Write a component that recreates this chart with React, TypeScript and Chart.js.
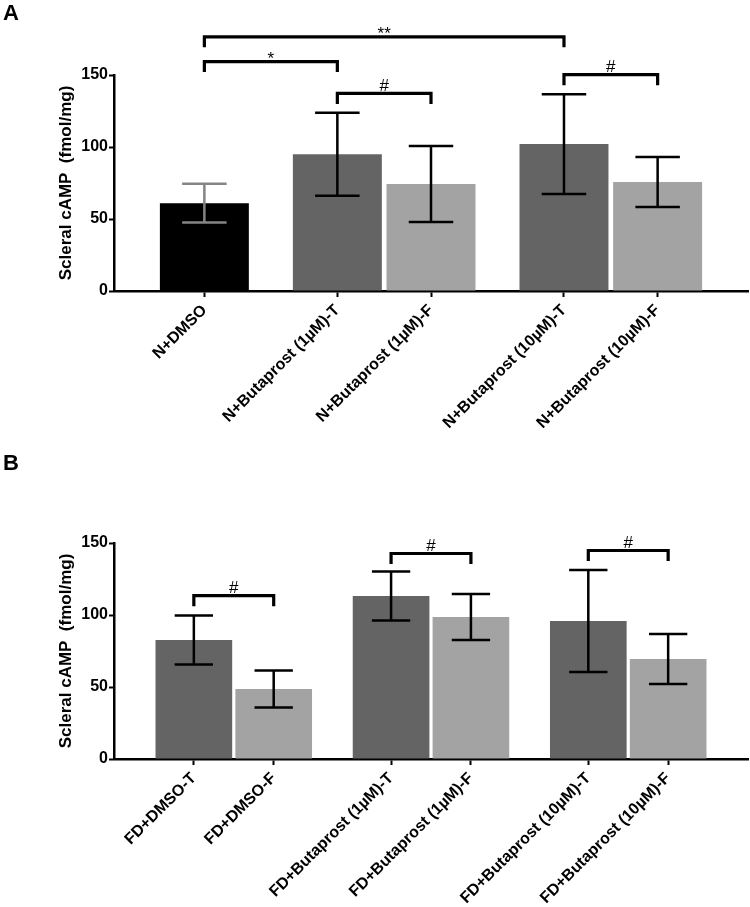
import React, { useEffect, useRef } from "react";
import { Chart, registerables } from "chart.js";

Chart.register(...registerables);

// ---------- Panel A data ----------
const labelsA = [
  "N+DMSO",
  "N+Butaprost (1µM)-T",
  "N+Butaprost (1µM)-F",
  "N+Butaprost (10µM)-T",
  "N+Butaprost (10µM)-F",
];
const groupsA = [0, 1, 1, 2, 2];
const meansA = [61, 95, 74.3, 102, 75.7];
const sdA = [13.5, 28.8, 26.4, 34.7, 17.3];
const bracketsA = [
  { from: 0, to: 3, level: 176.5, text: "**" },
  { from: 0, to: 1, level: 159.3, text: "*" },
  { from: 1, to: 2, level: 137.2, text: "#" },
  { from: 3, to: 4, level: 150.2, text: "#" },
];

// ---------- Panel B data ----------
const labelsB = [
  "FD+DMSO-T",
  "FD+DMSO-F",
  "FD+Butaprost (1µM)-T",
  "FD+Butaprost (1µM)-F",
  "FD+Butaprost (10µM)-T",
  "FD+Butaprost (10µM)-F",
];
const groupsB = [0, 0, 1, 1, 2, 2];
const meansB = [82.6, 48.6, 113.2, 98.6, 95.8, 69.4];
const sdB = [17, 12.8, 17, 16, 35.4, 17.4];
const bracketsB = [
  { from: 0, to: 1, level: 113.4, text: "#" },
  { from: 2, to: 3, level: 142.7, text: "#" },
  { from: 4, to: 5, level: 144.8, text: "#" },
];

const yTicks = [0, 50, 100, 150];

// ---------- styles ----------
const BLACK = "#000000";
const DARK = "#646464";
const LIGHT = "#a3a3a3";
const colorsA = [BLACK, DARK, LIGHT, DARK, LIGHT];
const errColorsA = ["#858585", BLACK, BLACK, BLACK, BLACK];
const colorsB = [DARK, LIGHT, DARK, LIGHT, DARK, LIGHT];
const errColorsB = [BLACK, BLACK, BLACK, BLACK, BLACK, BLACK];

const FONT = "'Liberation Sans', Arial, Helvetica, sans-serif";

type Bracket = { from: number; to: number; level: number; text: string };

interface PanelCfg {
  letter: string;
  letterY: number;
  height: number;
  padTop: number;
  plotBottom: number;
  labels: string[];
  groups: number[];
  means: number[];
  sd: number[];
  colors: string[];
  errColors: string[];
  brackets: Bracket[];
  gap: number;
  edge: number;
  barPct: number;
  legPx: number;
}

function Panel(props: { cfg: PanelCfg }) {
  const ref = useRef<HTMLCanvasElement | null>(null);
  const cfg = props.cfg;

  useEffect(() => {
    const canvas = ref.current;
    if (!canvas) return;
    const positions = cfg.labels.map((_, i) => i + cfg.groups[i] * cfg.gap);
    const xmin = positions[0] - cfg.edge;
    const xmax = positions[positions.length - 1] + cfg.edge;

    const decorPlugin = {
      id: "decor",
      afterDatasetsDraw(chart: any) {
        const ctx = chart.ctx;
        const xs = chart.scales.x;
        const ys = chart.scales.y;
        const meta = chart.getDatasetMeta(0);
        ctx.save();
        // error bars
        meta.data.forEach((bar: any, i: number) => {
          const x = bar.x;
          const half = bar.width * 0.25;
          const top = ys.getPixelForValue(cfg.means[i] + cfg.sd[i]);
          const bot = ys.getPixelForValue(cfg.means[i] - cfg.sd[i]);
          ctx.strokeStyle = cfg.errColors[i];
          ctx.lineWidth = 2.5;
          ctx.lineCap = "butt";
          ctx.beginPath();
          ctx.moveTo(x, top);
          ctx.lineTo(x, bot);
          ctx.moveTo(x - half, top);
          ctx.lineTo(x + half, top);
          ctx.moveTo(x - half, bot);
          ctx.lineTo(x + half, bot);
          ctx.stroke();
        });
        // brackets
        cfg.brackets.forEach((b) => {
          const x1 = xs.getPixelForValue(positions[b.from]);
          const x2 = xs.getPixelForValue(positions[b.to]);
          const y = ys.getPixelForValue(b.level);
          ctx.strokeStyle = BLACK;
          ctx.lineWidth = 3.2;
          ctx.lineJoin = "miter";
          ctx.beginPath();
          ctx.moveTo(x1, y + cfg.legPx);
          ctx.lineTo(x1, y);
          ctx.lineTo(x2, y);
          ctx.lineTo(x2, y + cfg.legPx);
          ctx.stroke();
          ctx.fillStyle = BLACK;
          ctx.textAlign = "center";
          ctx.textBaseline = "alphabetic";
          if (b.text === "#") {
            ctx.font = `17px ${FONT}`;
            ctx.fillText(b.text, (x1 + x2) / 2, y - 2.5);
          } else {
            ctx.font = `17px ${FONT}`;
            ctx.fillText(b.text, (x1 + x2) / 2, y + 2);
          }
        });
        // panel letter
        ctx.font = `bold 22px ${FONT}`;
        ctx.textAlign = "left";
        ctx.textBaseline = "alphabetic";
        ctx.fillStyle = BLACK;
        ctx.fillText(cfg.letter, 3, cfg.letterY);
        ctx.restore();
      },
    };

    const chart = new Chart(canvas, {
      type: "bar",
      data: {
        datasets: [
          {
            data: positions.map((p, i) => ({ x: p, y: cfg.means[i] })),
            backgroundColor: cfg.colors,
            borderWidth: 0,
            barPercentage: cfg.barPct,
            categoryPercentage: 1,
          } as any,
        ],
      },
      options: {
        responsive: false,
        animation: false,
        devicePixelRatio: 1,
        layout: { padding: { top: cfg.padTop, right: 2, left: 0, bottom: 0 } },
        plugins: {
          legend: { display: false },
          tooltip: { enabled: false },
        },
        scales: {
          x: {
            type: "linear",
            min: xmin,
            max: xmax,
            offset: false,
            afterBuildTicks: (scale: any) => {
              scale.ticks = positions.map((v) => ({ value: v }));
            },
            afterFit: (scale: any) => {
              scale.height = cfg.height - cfg.plotBottom;
            },
            grid: {
              display: true,
              offset: false,
              drawOnChartArea: false,
              drawTicks: true,
              tickLength: 6,
              tickWidth: 2,
              tickColor: BLACK,
            },
            border: { display: true, color: BLACK, width: 2.5 },
            ticks: {
              autoSkip: false,
              minRotation: 45,
              maxRotation: 45,
              padding: 4,
              color: BLACK,
              font: { family: FONT, size: 16, weight: "bold" },
              callback: (value: any) => {
                const idx = positions.findIndex((p) => Math.abs(p - Number(value)) < 1e-6);
                return idx >= 0 ? cfg.labels[idx] : "";
              },
            },
          },
          y: {
            min: 0,
            max: 150,
            afterBuildTicks: (scale: any) => {
              scale.ticks = yTicks.map((v) => ({ value: v }));
            },
            afterFit: (scale: any) => {
              scale.width = 114;
            },
            grid: {
              display: true,
              offset: false,
              drawOnChartArea: false,
              drawTicks: true,
              tickLength: 5,
              tickWidth: 2,
              tickColor: BLACK,
            },
            border: { display: true, color: BLACK, width: 2.5 },
            ticks: {
              padding: 1,
              color: BLACK,
              font: { family: FONT, size: 16, weight: "bold" },
            },
            title: {
              display: true,
              text: "Scleral cAMP  (fmol/mg)",
              color: BLACK,
              font: { family: FONT, size: 17, weight: "bold" },
              padding: { top: 56, bottom: 0 },
            },
          },
        },
      } as any,
      plugins: [decorPlugin],
    });
    return () => chart.destroy();
  }, []);

  return (
    <canvas
      ref={ref}
      width={750}
      height={cfg.height}
      style={{ display: "block", width: 750, height: cfg.height }}
    />
  );
}

const panelA: PanelCfg = {
  letter: "A",
  letterY: 20,
  height: 453,
  padTop: 75,
  plotBottom: 291,
  labels: labelsA,
  groups: groupsA,
  means: meansA,
  sd: sdA,
  colors: colorsA,
  errColors: errColorsA,
  brackets: bracketsA,
  gap: 0.42,
  edge: 0.965,
  barPct: 0.95,
  legPx: 10.5,
};

const panelB: PanelCfg = {
  letter: "B",
  letterY: 17,
  height: 454,
  padTop: 90,
  plotBottom: 306,
  labels: labelsB,
  groups: groupsB,
  means: meansB,
  sd: sdB,
  colors: colorsB,
  errColors: errColorsB,
  brackets: bracketsB,
  gap: 0.47,
  edge: 1.0,
  barPct: 0.96,
  legPx: 10.5,
};

export default function App() {
  return (
    <div
      style={{
        position: "absolute",
        left: 0,
        top: 0,
        width: 750,
        height: 907,
        background: "#ffffff",
        overflow: "hidden",
      }}
    >
      <Panel cfg={panelA} />
      <Panel cfg={panelB} />
    </div>
  );
}
